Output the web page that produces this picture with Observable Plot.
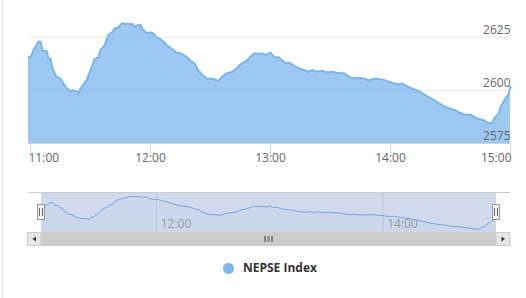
<!DOCTYPE html>
<html>
<head>
<meta charset="utf-8">
<script src="https://cdn.jsdelivr.net/npm/d3@7"></script>
<script src="https://cdn.jsdelivr.net/npm/@observablehq/plot@0.6"></script>
<style>
  html, body { margin: 0; padding: 0; background: #fff; }
  #wrap { position: relative; width: 526px; height: 298px; overflow: hidden; font-family: "Open Sans", sans-serif; }
  #border { position: absolute; left: 2px; top: 0; width: 1px; height: 298px; background: #e3e3e3; }
  #main { position: absolute; left: 0; top: 0; }
  #nav { position: absolute; left: 0; top: 185px; }
  #legend { position: absolute; left: 0; top: 260px; width: 526px; height: 16px; }
  #legend .sw { position: absolute; left: 222.5px; top: 2.5px; width: 11px; height: 11px; border-radius: 50%; background: #7cb5ec; }
  #legend .lb { position: absolute; left: 243px; top: 0; line-height: 16px; font-size: 12px; font-weight: bold; color: #333; white-space: nowrap; }
</style>
</head>
<body>
<div id="wrap">
  <div id="border"></div>
  <div id="main"></div>
  <div id="nav"></div>
  <div id="legend"><span class="sw"></span><span class="lb"></span></div>
</div>
<script>
const seriesName = "NEPSE Index";
const times = ["10:59","11:00","11:02","11:03","11:04","11:05","11:06","11:08","11:09","11:10","11:11","11:13","11:15","11:17","11:18","11:20","11:21","11:23","11:24","11:25","11:28","11:30","11:32","11:34","11:35","11:37","11:39","11:41","11:42","11:44","11:46","11:47","11:49","11:51","11:52","11:53","11:55","11:56","11:58","12:00","12:01","12:03","12:06","12:08","12:11","12:13","12:15","12:18","12:20","12:22","12:24","12:26","12:28","12:31","12:32","12:34","12:36","12:38","12:41","12:43","12:45","12:48","12:50","12:52","12:54","12:56","12:57","12:58","13:00","13:02","13:04","13:07","13:10","13:12","13:15","13:17","13:19","13:21","13:23","13:26","13:28","13:31","13:33","13:37","13:40","13:42","13:45","13:47","13:49","13:52","13:56","13:58","14:02","14:04","14:06","14:08","14:11","14:14","14:17","14:19","14:22","14:24","14:27","14:29","14:32","14:34","14:37","14:39","14:40","14:42","14:44","14:47","14:49","14:51","14:52","14:54","14:55","14:57","14:59","15:00"];
const values = [2615.5,2615.5,2619.8,2621.3,2622.9,2622.8,2618.6,2618.6,2615.0,2615.0,2610.3,2606.3,2605.6,2602.4,2601.1,2599.5,2600.0,2599.5,2598.4,2600.8,2604.7,2609.5,2614.6,2615.5,2619.0,2621.0,2626.1,2627.4,2628.9,2629.6,2631.6,2631.2,2631.2,2631.2,2629.6,2630.4,2630.8,2628.8,2626.9,2627.2,2626.9,2625.0,2623.4,2621.3,2619.3,2617.7,2617.4,2615.8,2613.9,2612.7,2609.2,2607.1,2605.6,2605.4,2605.1,2604.4,2606.6,2607.9,2608.7,2610.3,2612.2,2613.9,2615.8,2617.4,2617.1,2617.4,2616.9,2616.6,2617.7,2615.5,2615.5,2613.1,2612.7,2611.4,2610.0,2609.5,2608.7,2609.5,2608.7,2609.2,2608.4,2608.7,2608.2,2607.9,2606.0,2605.7,2605.8,2605.4,2604.7,2605.4,2605.1,2604.4,2603.2,2602.8,2603.2,2601.9,2600.8,2599.7,2598.0,2596.8,2595.3,2594.0,2592.4,2591.6,2590.8,2589.7,2588.6,2588.5,2588.6,2587.3,2586.6,2585.8,2584.5,2584.7,2587.0,2588.9,2592.1,2595.3,2598.1,2601.6];
const xTickLabels = ["11:00","12:00","13:00","14:00","15:00"];
const navTickLabels = ["12:00","14:00"];
const yTicks = [2575, 2600, 2625];
const yMax = 2637.5;
const navYDomain = [2580, 2637];

const parse = s => { const [h, m] = s.split(":").map(Number); return new Date(2020, 0, 1, h, m); };
const data = times.map((t, i) => ({t: parse(t), v: values[i]}));
const xDomain = d3.extent(data, d => d.t);
const xTicks = xTickLabels.map(parse);
const navTicks = navTickLabels.map(parse);
const fmt = d3.timeFormat("%H:%M");
const font = {fontFamily: "Open Sans, sans-serif", fontSize: "12px", background: "transparent", overflow: "visible"};

const main = Plot.plot({
  width: 526, height: 170,
  marginLeft: 28, marginRight: 16, marginTop: 10, marginBottom: 27,
  style: font,
  x: {type: "time", domain: xDomain, axis: null},
  y: {domain: [yTicks[0], yMax], axis: null},
  marks: [
    Plot.ruleY(yTicks.slice(1), {stroke: "#e6e6e6"}),
    Plot.areaY(data, {x: "t", y1: yTicks[0], y2: "v", fill: "#7cb5ec", fillOpacity: 0.75}),
    Plot.lineY(data, {x: "t", y: "v", stroke: "#7cb5ec", strokeWidth: 2}),
    Plot.ruleY([yTicks[0]], {stroke: "#ccd6eb"}),
    Plot.axisX(xTicks, {tickSize: 10, stroke: "#ccd6eb", tickFormat: () => "", label: null}),
    Plot.text(yTicks, {y: d => d, text: d => String(d), frameAnchor: "right", textAnchor: "end", lineAnchor: "middle", dy: -7, fill: "#666"}),
    Plot.text(xTicks.slice(0, 1), {x: d => d, text: d => fmt(d), frameAnchor: "bottom", textAnchor: "start", lineAnchor: "middle", dx: -2, dy: 15, fill: "#666"}),
    Plot.text(xTicks.slice(1, -1), {x: d => d, text: d => fmt(d), frameAnchor: "bottom", textAnchor: "middle", lineAnchor: "middle", dy: 15, fill: "#666"}),
    Plot.text(xTicks.slice(-1), {x: d => d, text: d => fmt(d), frameAnchor: "bottom", textAnchor: "end", lineAnchor: "middle", dx: 1, dy: 15, fill: "#666"})
  ]
});
document.getElementById("main").appendChild(main);

const nav = Plot.plot({
  width: 526, height: 62,
  marginLeft: 41, marginRight: 30, marginTop: 7, marginBottom: 15,
  style: font,
  x: {type: "time", domain: xDomain, axis: null},
  y: {domain: navYDomain, axis: null},
  marks: [
    Plot.ruleX(navTicks, {x: d => d, stroke: "#e6e6e6"}),
    Plot.areaY(data, {x: "t", y1: navYDomain[0], y2: "v", fill: "#7cb5ec", fillOpacity: 0.05}),
    Plot.lineY(data, {x: "t", y: "v", stroke: "#7cb5ec", strokeWidth: 1}),
    Plot.rect([xDomain], {x1: d => d[0], x2: d => d[1], fill: "rgb(102,133,194)", fillOpacity: 0.3}),
    Plot.text(navTicks, {x: d => d, text: d => fmt(d), frameAnchor: "bottom", textAnchor: "start", lineAnchor: "middle", dx: 4, dy: -8, fill: "#999"})
  ]
});
document.getElementById("nav").appendChild(nav);

// navigator outline, handles and scrollbar, positioned from the navigator x scale
const sx = nav.scale("x");
const nx0 = sx.apply(xDomain[0]), nx1 = sx.apply(xDomain[1]);
const navTop = 7, navBot = 47, sbH = 14;
const g = d3.select(nav).append("g");
// scrollbar
g.append("rect").attr("x", nx0 - 13.5).attr("y", navBot).attr("width", nx1 - nx0 + 27.5).attr("height", sbH).attr("fill", "#f2f2f2");
g.append("rect").attr("x", nx0).attr("y", navBot).attr("width", nx1 - nx0).attr("height", sbH).attr("fill", "#cccccc");
g.append("rect").attr("x", nx0 - 13.5).attr("y", navBot + 0.5).attr("width", 13.5).attr("height", sbH - 1).attr("fill", "#e6e6e6").attr("stroke", "#cccccc");
g.append("rect").attr("x", nx1).attr("y", navBot + 0.5).attr("width", 14).attr("height", sbH - 1).attr("fill", "#e6e6e6").attr("stroke", "#cccccc");
g.append("path").attr("d", `M${nx0 - 5},${navBot + 4.5}L${nx0 - 8.5},${navBot + 7}L${nx0 - 5},${navBot + 9.5}Z`).attr("fill", "#333");
g.append("path").attr("d", `M${nx1 + 5.5},${navBot + 4.5}L${nx1 + 9},${navBot + 7}L${nx1 + 5.5},${navBot + 9.5}Z`).attr("fill", "#333");
const ncx = (nx0 + nx1) / 2;
for (const dx of [-3.5, 0, 3.5]) {
  g.append("rect").attr("x", ncx + dx - 1).attr("y", navBot + 4).attr("width", 2).attr("height", 6).attr("fill", "#808080");
}
// outline
g.append("line").attr("x1", nx0 - 13.5).attr("x2", nx1 + 14).attr("y1", navTop + 0.5).attr("y2", navTop + 0.5).attr("stroke", "#cccccc");
// handles
for (const hx of [nx0, nx1]) {
  g.append("rect").attr("x", Math.round(hx) - 3.5).attr("y", 19.5).attr("width", 7).attr("height", 15).attr("fill", "#f2f2f2").attr("stroke", "#999");
  for (const d of [-1.5, 1.5]) {
    g.append("line").attr("x1", Math.round(hx) + d).attr("x2", Math.round(hx) + d).attr("y1", 23).attr("y2", 31).attr("stroke", "#666");
  }
}

document.querySelector("#legend .lb").textContent = seriesName;
</script>
</body>
</html>
